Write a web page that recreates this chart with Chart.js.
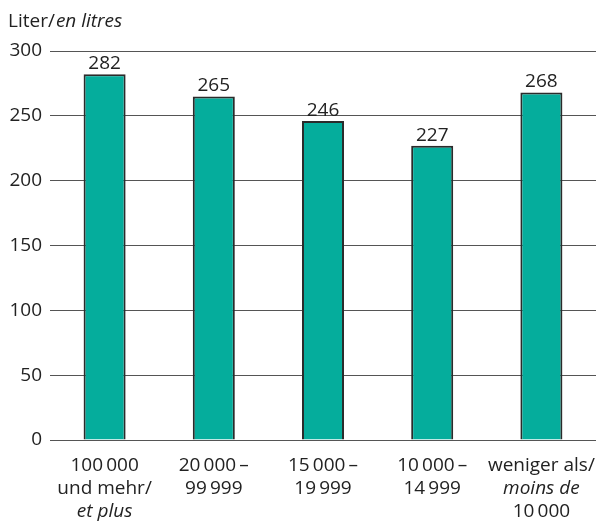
<!DOCTYPE html>
<html>
<head>
<meta charset="utf-8">
<script src="https://cdn.jsdelivr.net/npm/chart.js@4"></script>
<style>
  html, body { margin: 0; padding: 0; background: #fff; }
  #wrap { width: 602px; height: 522px; }
</style>
</head>
<body>
<div id="wrap"><canvas id="litresChart" width="602" height="522"></canvas></div>
<script>
// Data
var categories = ["100 000 und mehr", "20 000–99 999", "15 000–19 999", "10 000–14 999", "weniger als 10 000"];
var litres = [282, 265, 246, 227, 268];
// Axis label lines: [text, italic?]
var categoryLines = [
    [["100\u2009000", false], ["und mehr/", false], ["et plus", true]],
    [["20\u2009000\u2009–", false], ["99\u2009999", false]],
    [["15\u2009000\u2009–", false], ["19\u2009999", false]],
    [["10\u2009000\u2009–", false], ["14\u2009999", false]],
    [["weniger als/", false], ["moins de", true], ["10\u2009000", false]]
];
var yTicks = [0, 50, 100, 150, 200, 250, 300];

var FONT = "'Open Sans', 'Noto Sans', sans-serif";
var TEXT = "#222";
var SIZE = 19;

var labelsPlugin = {
    id: "labels",
    afterDraw: function(chart) {
        var ctx = chart.ctx;
        var x = chart.scales.x, y = chart.scales.y;
        ctx.save();
        ctx.fillStyle = TEXT;
        ctx.textAlign = "center";

        // value labels above bars
        ctx.font = SIZE + "px " + FONT;
        ctx.textBaseline = "alphabetic";
        chart.getDatasetMeta(0).data.forEach(function(bar, i) {
            ctx.fillText(String(litres[i]), bar.x, bar.y - 5);
        });

        // category labels under the axis
        ctx.textBaseline = "middle";
        categoryLines.forEach(function(lines, i) {
            var cx = x.getPixelForValue(i);
            lines.forEach(function(line, j) {
                ctx.font = (line[1] ? "italic " : "") + SIZE + "px " + FONT;
                ctx.fillText(line[0], cx, y.bottom + 26 + j * 23);
            });
        });

        // unit title
        ctx.textAlign = "left";
        ctx.textBaseline = "alphabetic";
        ctx.font = SIZE + "px " + FONT;
        var part1 = "Liter/";
        ctx.fillText(part1, 8, 27);
        var w = ctx.measureText(part1).width;
        ctx.font = "italic " + SIZE + "px " + FONT;
        ctx.fillText("en litres", 8 + w + 1, 27);
        ctx.restore();
    }
};

new Chart(document.getElementById("litresChart"), {
    type: "bar",
    data: {
        labels: categories,
        datasets: [{
            data: litres,
            backgroundColor: "#05ad9c",
            borderColor: "#2b2b2b",
            borderWidth: 2,
            barPercentage: 0.385,
            categoryPercentage: 1
        }]
    },
    options: {
        responsive: false,
        animation: false,
        devicePixelRatio: 1,
        layout: { padding: { top: 51, right: 6, bottom: 74, left: 0 } },
        plugins: { legend: { display: false }, tooltip: { enabled: false } },
        scales: {
            x: {
                ticks: { display: false },
                grid: { display: false },
                border: { display: false }
            },
            y: {
                min: 0,
                max: 300,
                afterBuildTicks: function(scale) {
                    scale.ticks = yTicks.map(function(v) { return { value: v }; });
                },
                afterFit: function(scale) { scale.width = 50; },
                ticks: {
                    padding: 8,
                    color: TEXT,
                    font: { family: FONT, size: SIZE }
                },
                grid: { color: "#555", lineWidth: 1, drawTicks: false },
                border: { display: false }
            }
        }
    },
    plugins: [labelsPlugin]
});
</script>
</body>
</html>
